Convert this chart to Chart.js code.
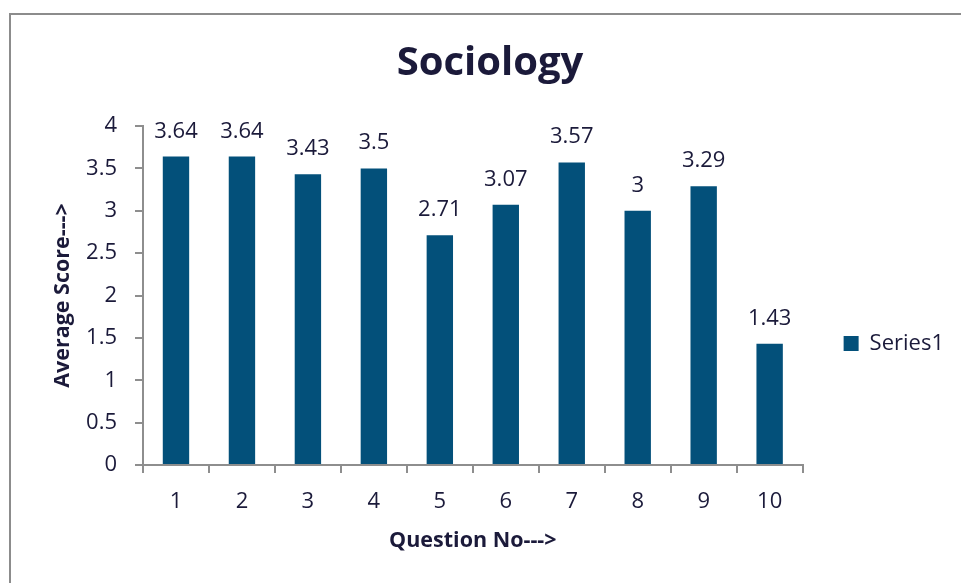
<!DOCTYPE html>
<html>
<head>
<meta charset="utf-8">
<script src="https://cdn.jsdelivr.net/npm/chart.js@4.4.0/dist/chart.umd.min.js"></script>
<style>
  body { margin: 0; background: #fff; }
  #frame { position: absolute; left: 9px; top: 13px; width: 1000px; height: 1000px; border: 2px solid #8c8c8c; }
  #wrap { position: absolute; left: 0; top: 0; width: 961px; height: 583px; }
</style>
</head>
<body>
<div id="frame"></div>
<div id="wrap"><canvas id="myChart"></canvas></div>
<script>
var questions = ["1", "2", "3", "4", "5", "6", "7", "8", "9", "10"];
var averageScores = [3.64, 3.64, 3.43, 3.5, 2.71, 3.07, 3.57, 3, 3.29, 1.43];
var yMin = 0;
var yMax = 4;
var yStep = 0.5;

var textColor = "#1b1a3a";
var barColor = "#03507a";
var axisColor = "#8e8e8e";
var fontName = "'Open Sans'";

// value labels above each bar
var barLabels = {
  id: "barLabels",
  afterDatasetsDraw: function (chart) {
    var ctx = chart.ctx;
    var meta = chart.getDatasetMeta(0);
    ctx.save();
    ctx.font = "22px " + fontName;
    ctx.fillStyle = textColor;
    ctx.textAlign = "center";
    ctx.textBaseline = "alphabetic";
    meta.data.forEach(function (bar, i) {
      ctx.fillText(String(averageScores[i]), bar.x, bar.y - 19);
    });
    ctx.restore();
  },
};

window.onload = function () {
  var ctx = document.getElementById("myChart").getContext("2d");
  var chart = new Chart(ctx, {
    type: "bar",
    data: {
      labels: questions,
      datasets: [
        {
          label: "Series1",
          data: averageScores,
          backgroundColor: barColor,
          borderWidth: 0,
          barPercentage: 0.4,
          categoryPercentage: 1,
        },
      ],
    },
    options: {
      responsive: true,
      maintainAspectRatio: false,
      animation: false,
      layout: { padding: { top: 0, right: 7, bottom: 0, left: 26 } },
      plugins: {
        tooltip: { enabled: false },
        title: {
          display: true,
          text: "Sociology",
          color: textColor,
          font: { family: fontName, size: 40, weight: "bold" },
          padding: { top: 40, bottom: 38 },
        },
        legend: {
          display: true,
          position: "right",
          title: {
            display: true,
            text: " ",
            font: { family: fontName, size: 10 },
            padding: { top: 92, bottom: 0 },
          },
          labels: {
            boxWidth: 15,
            boxHeight: 15,
            padding: 41,
            color: textColor,
            font: { family: fontName, size: 22 },
          },
        },
      },
      scales: {
        x: {
          type: "category",
          offset: true,
          grid: {
            display: true,
            offset: true,
            drawOnChartArea: false,
            drawTicks: true,
            tickLength: 8,
            color: axisColor,
            lineWidth: 2,
          },
          border: { display: true, color: axisColor, width: 2 },
          ticks: {
            color: textColor,
            font: { family: fontName, size: 22 },
            padding: 16,
            maxRotation: 0,
          },
          title: {
            display: true,
            text: "Question No--->",
            color: textColor,
            font: { family: fontName, size: 21.5, weight: "bold" },
            padding: { top: 0, bottom: 29 },
          },
          afterFit: function (scale) {
            scale.height = 118;
          },
        },
        y: {
          min: yMin,
          max: yMax,
          grid: {
            display: true,
            drawOnChartArea: false,
            drawTicks: true,
            tickLength: 8,
            color: axisColor,
            lineWidth: 2,
          },
          border: { display: true, color: axisColor, width: 2 },
          ticks: {
            stepSize: yStep,
            color: textColor,
            font: { family: fontName, size: 22 },
            padding: 18,
            callback: function (value) {
              return String(value);
            },
          },
          title: {
            display: true,
            text: "Average Score--->",
            color: textColor,
            font: { family: fontName, size: 21.5, weight: "bold" },
            padding: { top: 24, bottom: 0 },
          },
          afterFit: function (scale) {
            scale.width = 117;
          },
        },
      },
    },
    plugins: [barLabels],
  });
};
</script>
</body>
</html>
